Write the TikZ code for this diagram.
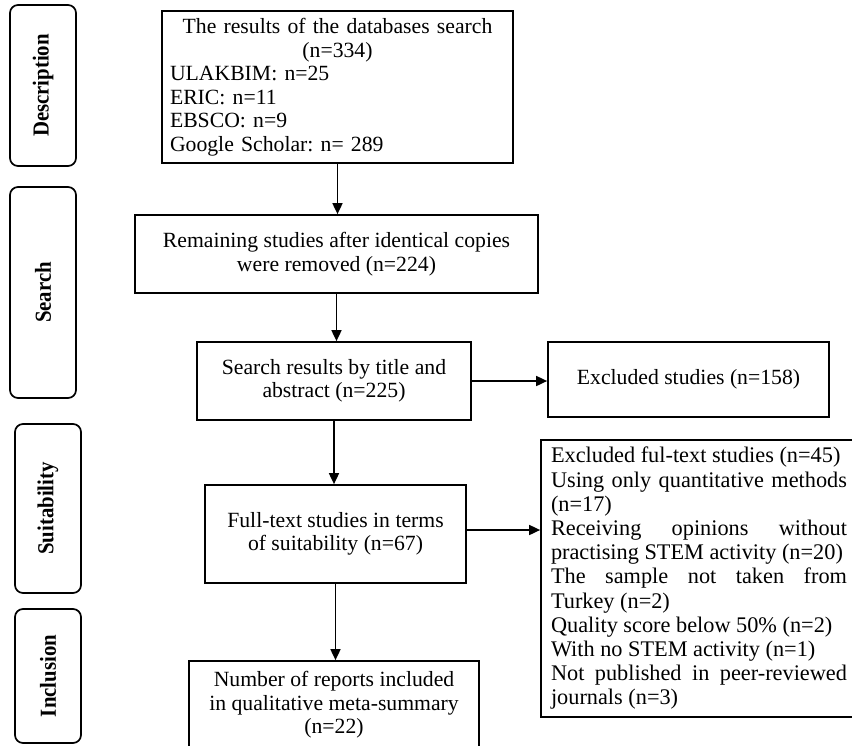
\documentclass[tikz,border=0pt]{standalone}
\usepackage{fontspec}
\setmainfont{Liberation Serif}
\usepackage{graphicx}
\usepackage{tikz}
\usetikzlibrary{arrows.meta}
\frenchspacing
\hyphenpenalty=10000
\exhyphenpenalty=10000
\tolerance=9999

\begin{document}
\begin{tikzpicture}[x=1pt, y=-1pt,
    stage/.style={draw, line width=1.7pt, rounded corners=8pt, rotate=90,
        minimum height=66pt, inner sep=0pt,
        font=\bfseries\fontsize{20.8}{24}\selectfont},
    box/.style={draw, line width=1.7pt, inner sep=0pt, align=center,
        font=\fontsize{21.7}{23.5}\selectfont},
    exbox/.style={draw, line width=1.7pt, inner xsep=10pt, inner ysep=0pt,
        text width=296pt, align=justify,
        font=\fontsize{22.3}{24.2}\selectfont},
    arr/.style={line width=1.7pt, -{Triangle[length=11pt, width=10pt]}}]

    \clip (0,0) rectangle (852,745);

    % Stages on the left
    \node[stage, minimum width=161pt] (desc) at (43,85.5) {\scalebox{1}[1.1]{Description}};
    \node[stage, minimum width=211pt] (srch) at (43,292.5) {\scalebox{1}[1.1]{Search}};
    \node[stage, minimum width=169pt] (suit) at (48,508.5) {\scalebox{1}[1.1]{Suitability}};
    \node[stage, minimum width=134pt] (incl) at (48,676) {\scalebox{1}[1.1]{Inclusion}};

    % Main flow
    \node[box, align=left, text width=335pt, inner xsep=8pt, minimum height=152pt] (db) at (337.5,87)
        {{\centering The results of the databases search\\ (n=334)\par}
         ULAKBIM: n=25\\ ERIC: n=11\\ EBSCO: n=9\\ Google Scholar: n= 289};
    \node[box, minimum width=403pt, minimum height=78pt] (rem) at (336.5,254)
        {Remaining studies after identical copies\\ were removed (n=224)};
    \node[box, minimum width=274pt, minimum height=78pt] (sr) at (334,381)
        {Search results by title and\\ abstract (n=225)};
    \node[box, minimum width=261pt, minimum height=98pt] (ft) at (335.5,534)
        {Full-text studies in terms\\ of suitability (n=67)};
    \node[box, minimum width=290pt, minimum height=88pt] (nr) at (334,705)
        {Number of reports included\\ in qualitative meta-summary\\ (n=22)};

    % Excluded
    \node[box, minimum width=281pt, minimum height=75pt] (ex1) at (688.5,379.5)
        {Excluded studies (n=158)};
    \node[exbox, minimum height=277pt] (ex2) at (699,578.5)
        {Excluded ful-text studies (n=45)\par
         Using only quantitative methods (n=17)\par
         Receiving opinions without practising STEM activity (n=20)\par
         The sample not taken from Turkey (n=2)\par
         Quality score below 50\% (n=2)\par
         With no STEM activity (n=1)\par
         Not published in peer-reviewed journals (n=3)};

    \draw[arr] (db.south) -- (db.south |- rem.north);
    \draw[arr] (rem.south) -- (rem.south |- sr.north);
    \draw[arr] (sr.east) -- (sr.east -| ex1.west);
    \draw[arr] (sr.south) -- (sr.south |- ft.north);
    \draw[arr] ([yshift=4pt]ft.east) -- ([yshift=4pt]ft.east -| ex2.west);
    \draw[arr] (ft.south) -- (ft.south |- nr.north);
\end{tikzpicture}
\end{document}
